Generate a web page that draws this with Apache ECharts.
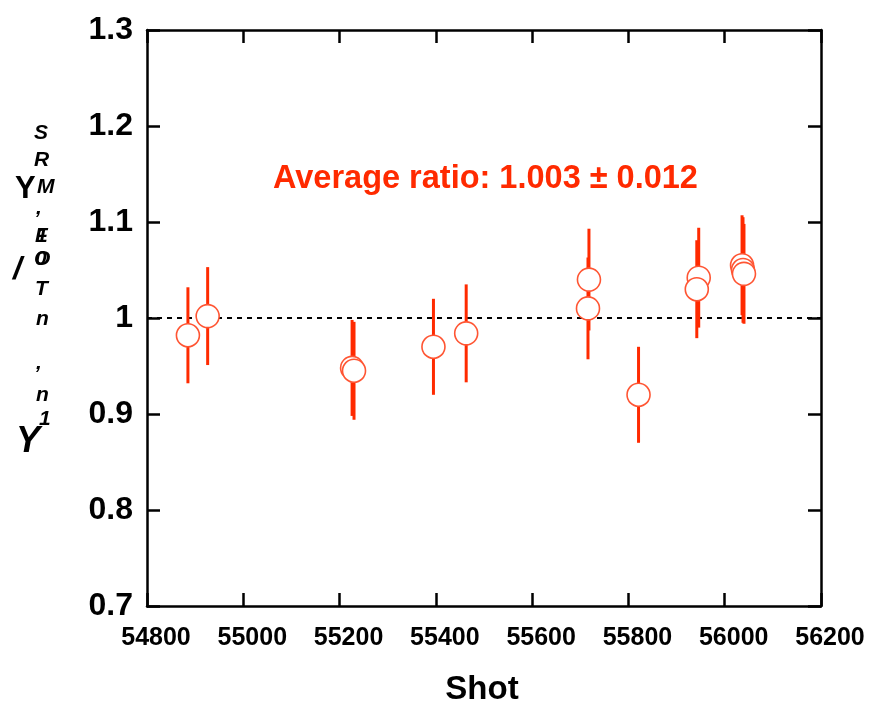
<!DOCTYPE html>
<html>
<head>
<meta charset="utf-8">
<script src="https://cdn.jsdelivr.net/npm/echarts@6/dist/echarts.min.js"></script>
<style>html,body{margin:0;padding:0;background:#fff}#c{width:878px;height:708px}</style>
</head>
<body>
<div id="c"></div>
<script>
const shots  = [54885, 54926, 55226, 55230, 55395, 55463, 55718, 55716, 55821, 55946, 55942, 56036, 56038, 56040];
const ratios = [0.982, 1.002, 0.948, 0.945, 0.970, 0.984, 1.040, 1.010, 0.920, 1.042, 1.030, 1.055, 1.050, 1.046];
const errors = [0.050, 0.051, 0.050, 0.051, 0.050, 0.051, 0.053, 0.053, 0.050, 0.052, 0.051, 0.052, 0.055, 0.052];
const xTickLabels = {"54800":"54800","55000":"55000","55200":"55200","55400":"55400","55600":"55600","55800":"55800","56000":"56000","56200":"56200"};
const yTickLabels = {"0.7":"0.7","0.8":"0.8","0.9":"0.9","1.0":"1","1.1":"1.1","1.2":"1.2","1.3":"1.3"};
const refLine = 1.0;
const annotation = "Average ratio: 1.003 \u00b1 0.012";
const xTitle = "Shot";

const RED = '#ff2a00';
const pts = shots.map((s, i) => [s, ratios[i]]);
const bars = shots.map((s, i) => [s, ratios[i] - errors[i], ratios[i] + errors[i]]);

const chart = echarts.init(document.getElementById('c'));
const font = 'Liberation Sans, Arial, sans-serif';
const axisCommon = {
  axisLine: {show: true, onZero: false, lineStyle: {color: '#000', width: 2.5}},
  axisTick: {show: true, inside: true, length: 13, lineStyle: {color: '#000', width: 2.5}},
  splitLine: {show: false}
};
function letter(t, x, y, size, italic) {
  return {type: 'text', x: x, y: y, style: {text: t, fill: '#000', verticalAlign: 'middle', align: 'left',
    fontSize: size, fontWeight: 'bold', fontStyle: italic ? 'italic' : 'normal', fontFamily: font}};
}
chart.setOption({
  animation: false,
  grid: {left: 147, right: 57, top: 30, bottom: 102},
  xAxis: [
    Object.assign({type: 'value', min: 54800, max: 56200, interval: 200, position: 'bottom',
      axisLabel: {fontSize: 25, fontWeight: 'bold', color: '#000', fontFamily: font, margin: 20,
        padding: [0, 0, 0, 18], formatter: v => xTickLabels[String(v)]}}, axisCommon),
    Object.assign({type: 'value', min: 54800, max: 56200, interval: 200, position: 'top',
      axisLabel: {show: false}}, axisCommon)
  ],
  yAxis: [
    Object.assign({type: 'value', min: 0.7, max: 1.3, interval: 0.1, position: 'left',
      axisLabel: {fontSize: 32, fontWeight: 'bold', color: '#000', fontFamily: font, margin: 14,
        padding: [0, 0, 10, 0], formatter: v => yTickLabels[v.toFixed(1)]}}, axisCommon),
    Object.assign({type: 'value', min: 0.7, max: 1.3, interval: 0.1, position: 'right',
      axisLabel: {show: false}}, axisCommon)
  ],
  series: [
    {
      type: 'line', data: [[54800, refLine], [56200, refLine]], symbol: 'none', silent: true,
      lineStyle: {color: '#000', width: 2, type: [5, 5]}, z: 1
    },
    {
      type: 'custom', data: bars, z: 2,
      renderItem: (params, api) => {
        const lo = api.coord([api.value(0), api.value(1)]);
        const hi = api.coord([api.value(0), api.value(2)]);
        return {type: 'line', shape: {x1: lo[0], y1: lo[1], x2: hi[0], y2: hi[1]},
          style: {stroke: RED, lineWidth: 3}};
      }
    },
    {
      type: 'scatter', data: pts, symbol: 'circle', symbolSize: 23, z: 3,
      itemStyle: {color: '#fff', opacity: 1, borderColor: '#ff5533', borderWidth: 1.6}
    }
  ],
  graphic: [
    {type: 'text', x: 273, y: 179, style: {text: annotation, fill: RED, verticalAlign: 'middle',
      fontSize: 32.5, fontWeight: 'bold', fontFamily: font}},
    {type: 'text', x: 482, y: 690, style: {text: xTitle, fill: '#000', align: 'center', verticalAlign: 'middle',
      fontSize: 33, fontWeight: 'bold', fontFamily: font}},
    letter('Y', 15, 189, 31, false),
    letter('/', 13, 270, 32, true),
    letter('Y', 16, 442, 36, true),
    letter('S', 34, 133, 21, true),
    letter('R', 34, 160, 21, true),
    letter('M', 37, 187, 21, true),
    letter(',', 36, 208, 21, true),
    letter('F', 35, 236, 21, true),
    letter('1', 36, 236, 21, true),
    letter('O', 34, 259, 21, true),
    letter('0', 35, 259, 21, true),
    letter('T', 35, 289, 21, true),
    letter('n', 36, 319, 21, true),
    letter(',', 36, 363, 21, true),
    letter('n', 36, 395, 21, true),
    letter('1', 39, 419, 21, true)
  ]
});
</script>
</body>
</html>
